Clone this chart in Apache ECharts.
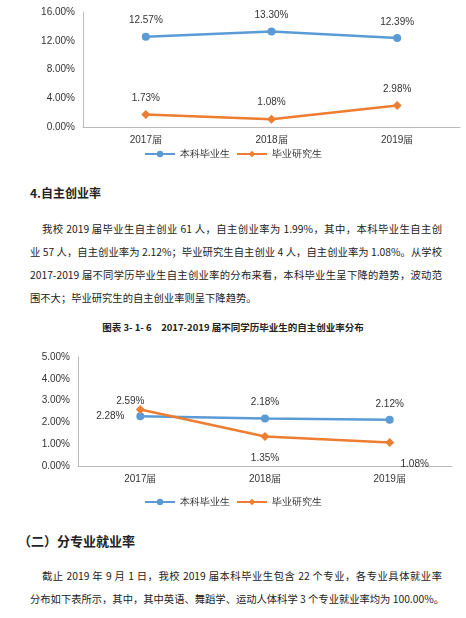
<!DOCTYPE html><html><head><meta charset="utf-8">
<script src="https://cdn.jsdelivr.net/npm/echarts@6/dist/echarts.min.js"></script>
<style>
body{margin:0;width:466px;height:618px;background:#fff;font-family:"Noto Sans CJK SC",sans-serif;color:#222;position:relative;overflow:hidden}
.t{position:absolute;left:30px;width:412px;font-size:10.3px;white-space:nowrap}
.j{text-align:justify;text-align-last:justify}
</style></head><body>
<div id="c1" style="position:absolute;left:0;top:0;width:466px;height:170px"></div>
<div class="t" style="top:184px;font-weight:bold;font-size:12px">4.自主创业率</div>
<div class="t j" style="top:221px;left:42px;width:400px">我校 2019 届毕业生自主创业 61 人，自主创业率为 1.99%，其中，本科毕业生自主创</div>
<div class="t j" style="top:244px">业 57 人，自主创业率为 2.12%；毕业研究生自主创业 4 人，自主创业率为 1.08%。从学校</div>
<div class="t j" style="top:267px">2017-2019 届不同学历毕业生自主创业率的分布来看，本科毕业生呈下降的趋势，波动范</div>
<div class="t" style="top:290px">围不大；毕业研究生的自主创业率则呈下降趋势。</div>
<div class="t" style="top:320px;text-align:center;font-weight:bold;font-size:9.5px;left:0;width:466px">图表 3- 1- 6　2017-2019 届不同学历毕业生的自主创业率分布</div>
<div id="c2" style="position:absolute;left:0;top:340px;width:466px;height:180px"></div>
<div class="t" style="top:531px;left:18px;font-weight:bold;font-size:13px">（二）分专业就业率</div>
<div class="t j" style="top:568px;left:42px;width:400px">截止 2019 年 9 月 1 日，我校 2019 届本科毕业生包含 22 个专业，各专业具体就业率</div>
<div class="t j" style="top:591px">分布如下表所示，其中，其中英语、舞蹈学、运动人体科学 3 个专业就业率均为 100.00%。</div>
<script>
const categories=['2017届','2018届','2019届'];
const names=['本科毕业生','毕业研究生'];
const rate1Undergrad=[12.57,13.30,12.39];
const rate1Grad=[1.73,1.08,2.98];
const rate2Undergrad=[2.28,2.18,2.12];
const rate2Grad=[2.59,1.35,1.08];
const fmt=v=>v.toFixed(2)+'%';
function mk(el,grid,max,interval,u,g,uPos,gPos){
 const c=echarts.init(document.getElementById(el));
 c.setOption({animation:false,grid,
  legend:{bottom:grid.legendBottom,itemWidth:30,itemHeight:8,itemGap:6,textStyle:{fontSize:10,color:'#333'},data:names},
  xAxis:{type:'category',data:categories,axisTick:{show:false},axisLine:{lineStyle:{color:'#bbb'}},axisLabel:{fontSize:10,color:'#333',margin:8}},
  yAxis:{type:'value',min:0,max,interval,splitLine:{show:false},axisLine:{show:true,lineStyle:{color:'#bbb'}},axisLabel:{fontSize:10,color:'#333',formatter:v=>v.toFixed(2)+'%'}},
  series:[
   {name:names[0],type:'line',data:u,symbol:'circle',symbolSize:8,itemStyle:{color:'#5B9BD5'},lineStyle:{width:2.5,color:'#5B9BD5'},label:{show:true,fontSize:10,color:'#333',formatter:p=>fmt(p.value),position:'top'}, labelLayout:uPos},
   {name:names[1],type:'line',data:g,symbol:'diamond',symbolSize:9,itemStyle:{color:'#ED7D31'},lineStyle:{width:2.5,color:'#ED7D31'},label:{show:true,fontSize:10,color:'#333',formatter:p=>fmt(p.value),position:'top'}, labelLayout:gPos}
  ]});
}
mk('c1',{left:83,right:6,top:12,height:115,legendBottom:6},16,4,rate1Undergrad,rate1Grad,
 p=>({dy:-2}),p=>({dy:-2}));
mk('c2',{left:78,right:14,top:17,height:109,legendBottom:8},5,1,rate2Undergrad,rate2Grad,
 p=>(p.dataIndex===0?{dx:-30,dy:14}:{dy:-2}),p=>(p.dataIndex===0?{dx:-10,dy:6}:p.dataIndex===1?{dy:36}:{dx:25,dy:36}));
</script></body></html>
